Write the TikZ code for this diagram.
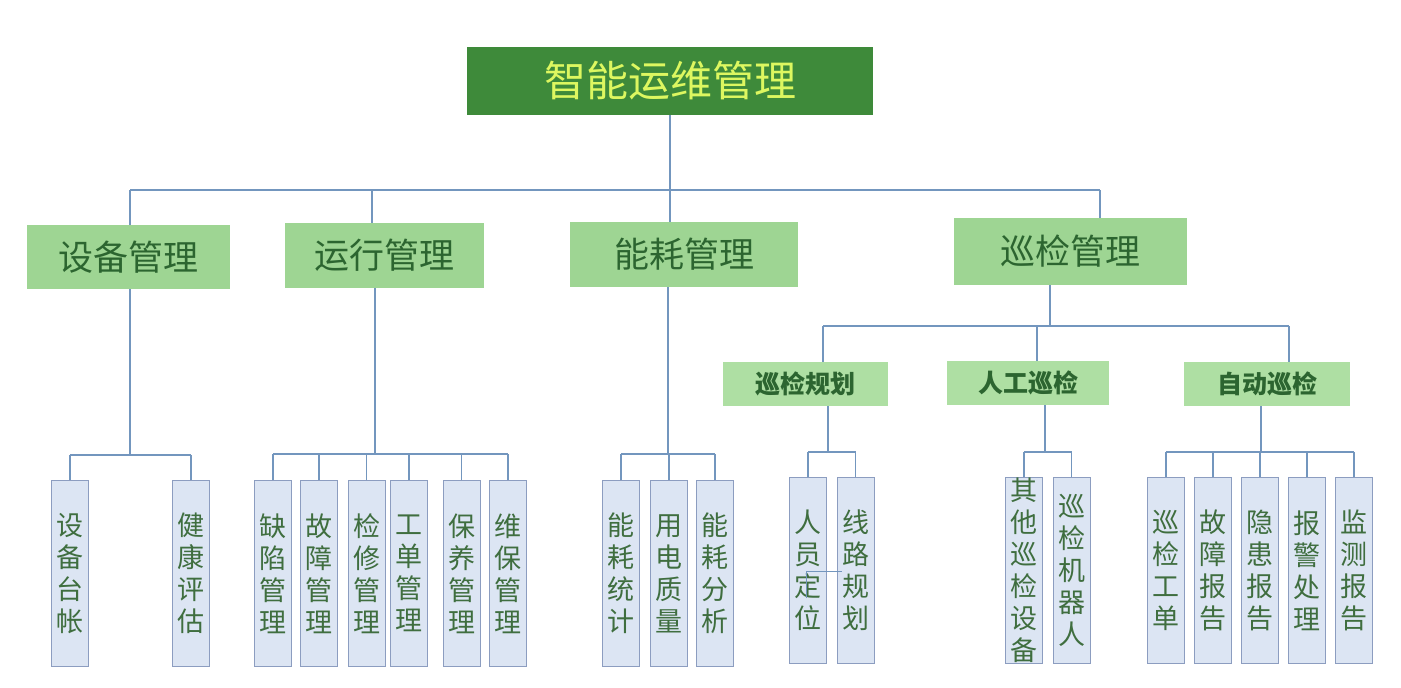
\documentclass[tikz,border=0pt]{standalone}
\usepackage{fontspec}
\newfontfamily\cjk{Noto Sans CJK SC}
\definecolor{topfill}{HTML}{3E8A3A}
\definecolor{toptext}{HTML}{DDF760}
\definecolor{lonefill}{HTML}{9ED593}
\definecolor{lonetext}{HTML}{2C6530}
\definecolor{ltwofill}{HTML}{AEDFA3}
\definecolor{leaffill}{HTML}{DCE5F3}
\definecolor{leafbord}{HTML}{8C9DC0}
\definecolor{leaftext}{HTML}{3F6E3F}
\definecolor{linec}{HTML}{7396BE}
\begin{document}
\begin{tikzpicture}[x=1pt,y=-1pt,
  conn/.style={draw=linec,line width=1.3pt},
  topbox/.style={rectangle,fill=topfill,inner sep=0pt,text=toptext,
    font=\cjk\fontsize{42}{50}\selectfont},
  lone/.style={rectangle,fill=lonefill,inner sep=0pt,text=lonetext,
    font=\cjk\fontsize{35}{40}\selectfont},
  ltwo/.style={rectangle,fill=ltwofill,inner sep=0pt,text=lonetext,
    minimum height=44pt,font=\cjk\bfseries\fontsize{25}{30}\selectfont},
  leaf/.style={rectangle,draw=leafbord,fill=leaffill,line width=1pt,inner sep=0pt,
    minimum width=37pt,minimum height=186pt,align=center,text=leaftext,
    font=\cjk\fontsize{27}{32}\selectfont}]
\useasboundingbox[fill=white] (0,0) rectangle (1401,688);

% top
\node[topbox,minimum width=406pt,minimum height=68pt] (top) at (670,81) {智能运维管理};

% level 1
\node[lone,minimum width=203pt,minimum height=64pt] (sb) at (128.5,257) {设备管理};
\node[lone,minimum width=199pt,minimum height=65pt] (yx) at (384.5,255.5) {运行管理};
\node[lone,minimum width=228pt,minimum height=65pt] (nh) at (684,254.5) {能耗管理};
\node[lone,minimum width=233pt,minimum height=67pt] (xj) at (1070.5,251.5) {巡检管理};

% level 2
\node[ltwo,minimum width=165pt] (xjgh) at (805.5,384) {巡检规划};
\node[ltwo,minimum width=162pt] (rgxj) at (1028,383) {人工巡检};
\node[ltwo,minimum width=166pt] (zdxj) at (1267,384) {自动巡检};

% leaves
\node[leaf] (sbtz) at (70,573.5) {设\\备\\台\\帐};
\node[leaf] (jkpg) at (191,573.5) {健\\康\\评\\估};

\node[leaf] (qxgl) at (273,573.5) {缺\\陷\\管\\理};
\node[leaf] (gzgl) at (319,573.5) {故\\障\\管\\理};
\node[leaf] (jxgl) at (366.5,573.5) {检\\修\\管\\理};
\node[leaf] (gdgl) at (409,573.5) {工\\单\\管\\理};
\node[leaf] (bygl) at (461.5,573.5) {保\\养\\管\\理};
\node[leaf] (wbgl) at (508,573.5) {维\\保\\管\\理};

\node[leaf] (nhtj) at (621,573.5) {能\\耗\\统\\计};
\node[leaf] (ydzl) at (669,573.5) {用\\电\\质\\量};
\node[leaf] (nhfx) at (715,573.5) {能\\耗\\分\\析};

\node[leaf] (rydw) at (808,570.5) {人\\员\\定\\位};
\node[leaf] (xlgh) at (855.5,570.5) {线\\路\\规\\划};

\node[leaf] (qtsb) at (1024,570.5) {其\\他\\巡\\检\\设\\备};
\node[leaf] (xjjq) at (1071.5,570.5) {巡\\检\\机\\器\\人};

\node[leaf] (xjgd) at (1166,570.5) {巡\\检\\工\\单};
\node[leaf] (gzbg) at (1213,570.5) {故\\障\\报\\告};
\node[leaf] (yhbg) at (1260,570.5) {隐\\患\\报\\告};
\node[leaf] (bjcl) at (1307,570.5) {报\\警\\处\\理};
\node[leaf] (jcbg) at (1354,570.5) {监\\测\\报\\告};

% connectors: top level
\coordinate (b0) at (670,190);
\coordinate (b0l) at (130,190);
\coordinate (b0r) at (1100,190);
\coordinate (d2) at (372,190);
\draw[conn] (top.south) -- (b0);
\draw[conn] (b0l) -- (b0r);
\draw[conn] (b0l) -- (b0l |- sb.north);
\draw[conn] (d2) -- (d2 |- yx.north);
\draw[conn] (b0) -- (b0 |- nh.north);
\draw[conn] (b0r) -- (b0r |- xj.north);

% 设备管理
\coordinate (s1) at (130,455);
\draw[conn] (s1 |- sb.south) -- (s1);
\draw[conn] (sbtz.north |- s1) -- (jkpg.north |- s1);
\foreach \n in {sbtz,jkpg} \draw[conn] (\n.north) -- (\n.north |- s1);

% 运行管理
\coordinate (s2) at (375,454);
\draw[conn] (s2 |- yx.south) -- (s2);
\draw[conn] (qxgl.north |- s2) -- (wbgl.north |- s2);
\foreach \n in {qxgl,gzgl,jxgl,gdgl,bygl,wbgl} \draw[conn] (\n.north) -- (\n.north |- s2);

% 能耗管理
\coordinate (s3) at (668,454);
\draw[conn] (s3 |- nh.south) -- (s3);
\draw[conn] (nhtj.north |- s3) -- (nhfx.north |- s3);
\foreach \n in {nhtj,ydzl,nhfx} \draw[conn] (\n.north) -- (\n.north |- s3);

% 巡检管理
\coordinate (s4) at (1050,326);
\coordinate (s4l) at (823,326);
\coordinate (s4m) at (1037,326);
\coordinate (s4r) at (1289,326);
\draw[conn] (s4 |- xj.south) -- (s4);
\draw[conn] (s4l) -- (s4r);
\draw[conn] (s4l) -- (s4l |- xjgh.north);
\draw[conn] (s4m) -- (s4m |- rgxj.north);
\draw[conn] (s4r) -- (s4r |- zdxj.north);

% 巡检规划
\coordinate (s5) at (828,452);
\draw[conn] (s5 |- xjgh.south) -- (s5);
\draw[conn] (rydw.north |- s5) -- (xlgh.north |- s5);
\foreach \n in {rydw,xlgh} \draw[conn] (\n.north) -- (\n.north |- s5);

% 人工巡检
\coordinate (s6) at (1045,452);
\draw[conn] (s6 |- rgxj.south) -- (s6);
\draw[conn] (qtsb.north |- s6) -- (xjjq.north |- s6);
\foreach \n in {qtsb,xjjq} \draw[conn] (\n.north) -- (\n.north |- s6);

% 自动巡检
\coordinate (s7) at (1261,452);
\draw[conn] (s7 |- zdxj.south) -- (s7);
\draw[conn] (xjgd.north |- s7) -- (jcbg.north |- s7);
\foreach \n in {xjgd,gzbg,yhbg,bjcl,jcbg} \draw[conn] (\n.north) -- (\n.north |- s7);

% stray bracket across 人员定位 / 线路规划
\coordinate (k1) at (806,598);
\coordinate (k2) at (806,571);
\coordinate (k3) at (842,571);
\draw[conn,line width=1pt] (k1) -- (k2) -- (k3);
\end{tikzpicture}
\end{document}
